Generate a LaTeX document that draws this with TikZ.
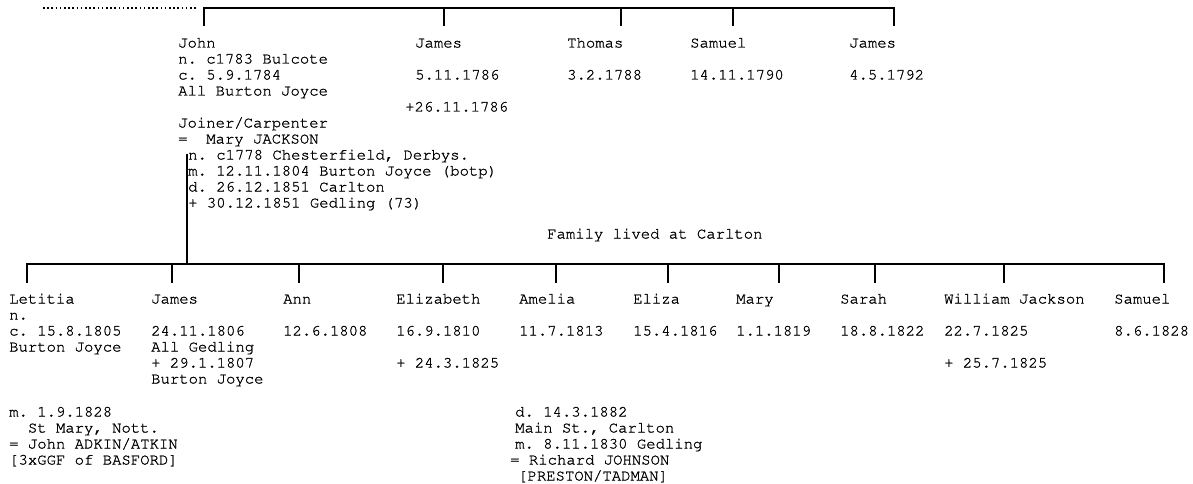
\documentclass[tikz,border=0pt]{standalone}
\usepackage[T1]{fontenc}
\usepackage{courier}
\newcommand{\chartfakebold}{\special{pdf:literal direct 2 Tr 0.18 w}}
\tikzset{
  lbl/.style={anchor=base west, inner sep=0pt, align=left,
              font=\chartfakebold\ttfamily\frenchspacing\fontsize{15.6}{16}\selectfont},
  bar/.style={line width=2.4pt, line cap=rect},
  dotline/.style={line width=2pt, dash pattern=on 1.6pt off 2.6pt},
}
\begin{document}
\begin{tikzpicture}[x=1pt,y=-1pt]
\useasboundingbox (0,0) rectangle (1193,484);
% (node positions give the baseline of the LAST line of each text)

% ---------- top generation ----------
\coordinate (dotA) at (43,8);
\coordinate (dotB) at (196,8);
\draw[dotline] (dotA) -- (dotB);

\foreach \n/\x in {t1/204,t2/444,t3/621,t4/733,t5/894}{
  \coordinate (\n) at (\x,8);
  \coordinate (\n b) at (\x,25);
}
\draw[bar] (t1b) -- (t1) -- (t5) -- (t5b);
\foreach \n in {t2,t3,t4}{ \draw[bar] (\n) -- (\n b); }

\node[lbl] (john) at (178,95.5) {John\\n. c1783 Bulcote\\c. 5.9.1784\\All Burton Joyce};
\node[lbl] (johnocc) at (178,143.5) {Joiner/Carpenter\\=\ \ Mary JACKSON};
\node[lbl] (mary) at (188,207.5) {n. c1778 Chesterfield, Derbys.\\m. 12.11.1804 Burton Joyce (botp)\\d. 26.12.1851 Carlton\\+ 30.12.1851 Gedling (73)};

\node[lbl] (jamesA) at (415,79.5) {James\\[16pt]5.11.1786};
\node[lbl] (jamesAd) at (405,111.5) {+26.11.1786};
\node[lbl] (thomas) at (567,79.5) {Thomas\\[16pt]3.2.1788};
\node[lbl] (samuelA) at (690,79.5) {Samuel\\[16pt]14.11.1790};
\node[lbl] (jamesB) at (849,79.5) {James\\[16pt]4.5.1792};

% ---------- link to children ----------
\coordinate (par) at (187,155);
\coordinate (parb) at (187,264);
\draw[bar] (par) -- (parb);

\node[lbl] (family) at (547,238.5) {Family lived at Carlton};

% ---------- children ----------
\foreach \n/\x in {c1/27,c2/172,c3/299,c4/443,c5/556,c6/668,c7/779,c8/875,c9/1004,c10/1164}{
  \coordinate (\n) at (\x,264);
  \coordinate (\n b) at (\x,282);
}
\draw[bar] (c1b) -- (c1) -- (c10) -- (c10b);
\foreach \n in {c2,c3,c4,c5,c6,c7,c8,c9}{ \draw[bar] (\n) -- (\n b); }

\node[lbl] (letitia) at (9,351.5) {Letitia\\n.\\c. 15.8.1805\\Burton Joyce};
\node[lbl] (letitiam) at (9,464.5) {m. 1.9.1828\\\ \ St Mary, Nott.\\= John ADKIN/ATKIN\\{[3xGGF of BASFORD]}};
\node[lbl] (jamesC) at (151,383.5) {James\\[16pt]24.11.1806\\All Gedling\\+ 29.1.1807\\Burton Joyce};
\node[lbl] (ann) at (283,335.5) {Ann\\[16pt]12.6.1808};
\node[lbl] (elizabeth) at (396,367.5) {Elizabeth\\[16pt]16.9.1810\\[16pt]+ 24.3.1825};
\node[lbl] (amelia) at (519,335.5) {Amelia\\[16pt]11.7.1813};
\node[lbl] (ameliad) at (515,448.5) {d. 14.3.1882\\Main St., Carlton\\m. 8.11.1830 Gedling};
\node[lbl] (ameliasp) at (510,464.5) {= Richard JOHNSON};
\node[lbl] (ameliafam) at (518,480.5) {[PRESTON/TADMAN]};
\node[lbl] (eliza) at (633,335.5) {Eliza\\[16pt]15.4.1816};
\node[lbl] (maryB) at (736,335.5) {Mary\\[16pt]1.1.1819};
\node[lbl] (sarah) at (840,335.5) {Sarah\\[16pt]18.8.1822};
\node[lbl] (william) at (944,367.5) {William Jackson\\[16pt]22.7.1825\\[16pt]+ 25.7.1825};
\node[lbl] (samuelB) at (1114,335.5) {Samuel\\[16pt]8.6.1828};
\end{tikzpicture}
\end{document}
